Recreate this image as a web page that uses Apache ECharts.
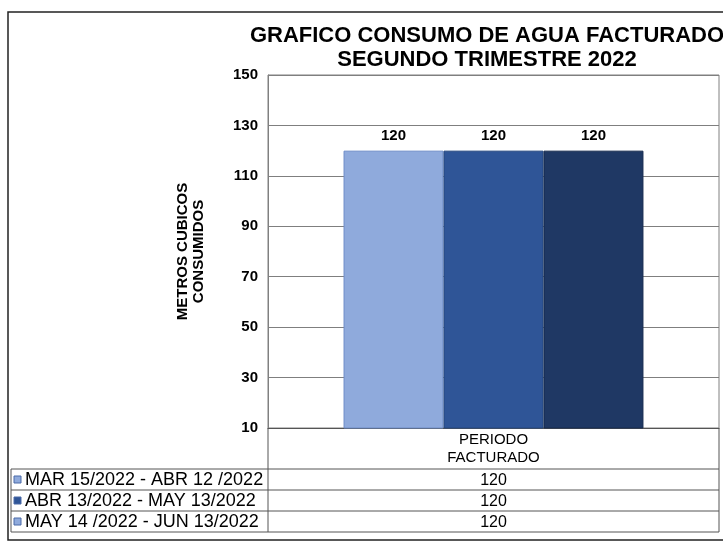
<!DOCTYPE html>
<html>
<head>
<meta charset="utf-8">
<script src="https://cdn.jsdelivr.net/npm/echarts@6/dist/echarts.min.js"></script>
<style>
  html, body { margin: 0; padding: 0; background: #fff; }
  #chart { width: 723px; height: 549px; }
</style>
</head>
<body>
<div id="chart"></div>
<script>
// data
var categories = ['PERIODO\nFACTURADO'];
var seriesNames = ['MAR 15/2022 - ABR 12 /2022', 'ABR 13/2022 - MAY 13/2022', 'MAY 14 /2022 - JUN 13/2022'];
var seriesValues = [[120], [120], [120]];
var yTicks = { min: 10, max: 150, interval: 20 };

var barColors = ['#8FAADC', '#2F5597', '#1F3864'];
var barBorders = ['#6D8CC8', '#24477F', '#172B4F'];
var keyColors = ['#8FAADC', '#2F5597', '#8FAADC'];

// layout
var gridL = 268, gridR = 719, gridT = 75, gridB = 428;
var headH = 41, rowH = 21, tableL = 11;
var font = 'Liberation Sans, Arial, sans-serif';

var dom = document.getElementById('chart');
var myChart = echarts.init(dom, null, { renderer: 'canvas' });

var series = seriesNames.map(function (name, i) {
  return {
    name: name,
    type: 'bar',
    data: seriesValues[i],
    barGap: 0,
    barCategoryGap: '33.5%',
    itemStyle: { color: barColors[i], borderColor: barBorders[i], borderWidth: 1 },
    label: {
      show: true,
      position: 'top',
      distance: 7,
      color: '#000',
      fontFamily: font,
      fontWeight: 'bold',
      fontSize: 15
    }
  };
});

// data table under the plot
var graphics = [
  { type: 'rect', shape: { x: 8, y: 12, width: 730, height: 528 },
    style: { fill: 'none', stroke: '#222', lineWidth: 1.5 }, silent: true },
  { type: 'line', shape: { x1: gridL, y1: gridB, x2: gridL, y2: gridB + headH + rowH * 3 },
    style: { stroke: '#555', lineWidth: 1 } },
  { type: 'line', shape: { x1: gridR, y1: gridB, x2: gridR, y2: gridB + headH + rowH * 3 },
    style: { stroke: '#555', lineWidth: 1 } },
  { type: 'line', shape: { x1: tableL, y1: gridB + headH, x2: tableL, y2: gridB + headH + rowH * 3 },
    style: { stroke: '#555', lineWidth: 1 } }
];
for (var r = 0; r <= seriesNames.length; r++) {
  var yy = gridB + headH + rowH * r;
  graphics.push({ type: 'line', shape: { x1: tableL, y1: yy, x2: gridR, y2: yy },
    style: { stroke: '#555', lineWidth: 1 } });
}
seriesNames.forEach(function (name, i) {
  var cy = gridB + headH + rowH * i + rowH / 2;
  graphics.push({ type: 'rect', shape: { x: tableL + 3, y: cy - 3.5, width: 7, height: 7 },
    style: { fill: keyColors[i], stroke: '#4a6aa8', lineWidth: 1 } });
  graphics.push({ type: 'text', x: tableL + 14, y: cy + 1,
    style: { text: name, font: '18px ' + font, fill: '#000', textVerticalAlign: 'middle' } });
  graphics.push({ type: 'text', x: (gridL + gridR) / 2, y: cy + 1,
    style: { text: String(seriesValues[i][0]), font: '16px ' + font, fill: '#000',
      textAlign: 'center', textVerticalAlign: 'middle' } });
});

var option = {
  animation: false,
  backgroundColor: '#fff',
  title: {
    text: 'GRAFICO CONSUMO DE AGUA FACTURADO\nSEGUNDO TRIMESTRE 2022',
    left: 482,
    top: 19,
    textAlign: 'center',
    textStyle: { fontFamily: font, fontWeight: 'bold', fontSize: 22, lineHeight: 24, color: '#000' }
  },
  grid: {
    left: gridL, right: 723 - gridR, top: gridT, bottom: 549 - gridB,
    show: true, borderColor: '#808080', borderWidth: 1
  },
  xAxis: {
    type: 'category',
    data: categories,
    axisLine: { show: true, lineStyle: { color: '#555', width: 1 } },
    axisTick: { show: false },
    axisLabel: { margin: 3, fontFamily: font, fontSize: 15, color: '#000', lineHeight: 18 }
  },
  yAxis: {
    type: 'value',
    min: yTicks.min,
    max: yTicks.max,
    interval: yTicks.interval,
    name: 'METROS CUBICOS\nCONSUMIDOS',
    nameLocation: 'middle',
    nameGap: 61,
    nameTextStyle: { fontFamily: font, fontWeight: 'bold', fontSize: 15, color: '#000', lineHeight: 16 },
    axisLine: { show: true, lineStyle: { color: '#808080' } },
    axisTick: { show: false },
    axisLabel: { margin: 10, fontFamily: font, fontWeight: 'bold', fontSize: 15, color: '#000' },
    splitLine: { lineStyle: { color: '#7f7f7f', width: 1.2 } }
  },
  series: series,
  graphic: graphics
};

myChart.setOption(option);
window.addEventListener('resize', myChart.resize);
</script>
</body>
</html>
